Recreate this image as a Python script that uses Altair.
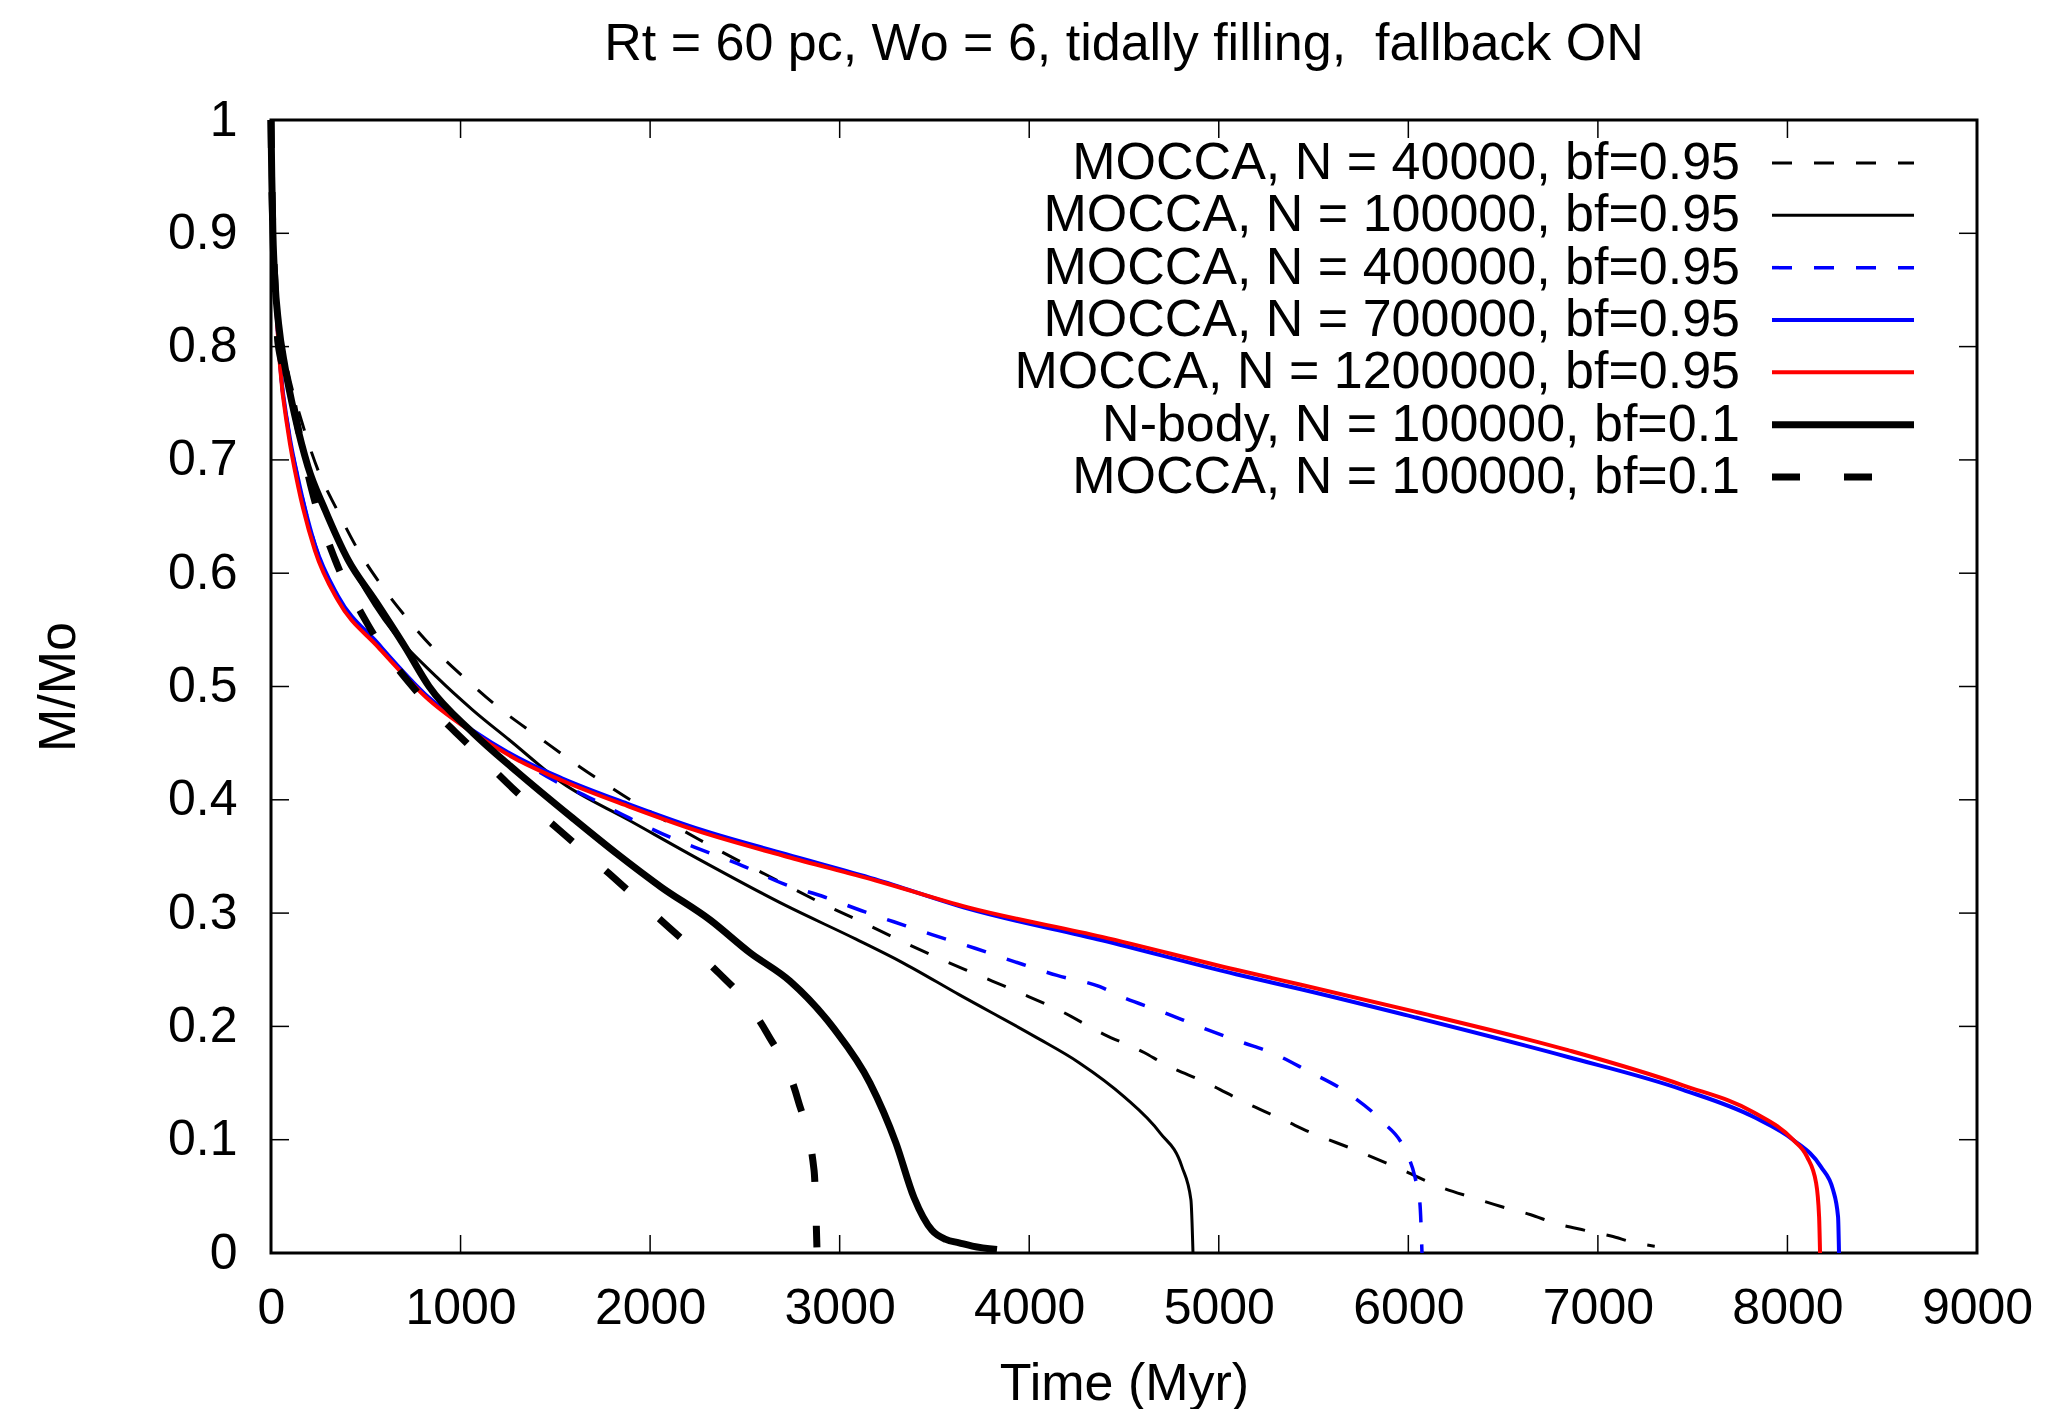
import altair as alt
import pandas as pd

FONT = "Liberation Sans"

# ---------------- data ----------------
title_text = "Rt = 60 pc, Wo = 6, tidally filling, \u00a0fallback ON"

labels = [
    "MOCCA, N = 40000, bf=0.95",
    "MOCCA, N = 100000, bf=0.95",
    "MOCCA, N = 400000, bf=0.95",
    "MOCCA, N = 700000, bf=0.95",
    "MOCCA, N = 1200000, bf=0.95",
    "N-body, N = 100000, bf=0.1",
    "MOCCA, N = 100000, bf=0.1",
]

t_40k = [0, 4, 10, 20, 40, 90, 160, 248, 348, 454, 575, 723, 855, 1045, 1219, 1398,
         1630, 1857, 2258, 2458, 2669, 2902, 3118, 3329, 3524, 3735, 3946, 4173, 4394,
         4606, 4711, 4938, 5138, 5360, 5476, 5719, 5972, 6172, 6336, 6489, 6642, 6779,
         6932, 7069, 7196, 7300]
m_40k = [1.0, 0.95, 0.90, 0.86, 0.825, 0.778, 0.735, 0.691, 0.656, 0.622, 0.591, 0.559,
         0.534, 0.504, 0.479, 0.457, 0.429, 0.404, 0.365, 0.347, 0.329, 0.309, 0.292,
         0.275, 0.260, 0.245, 0.230, 0.213, 0.193, 0.177, 0.167, 0.150, 0.133, 0.116,
         0.107, 0.091, 0.073, 0.058, 0.049, 0.041, 0.034, 0.026, 0.020, 0.015, 0.009, 0.006]

t_100k = [0, 4, 10, 20, 40, 74, 127, 195, 285, 406, 596, 876, 1066, 1256, 1535, 1889,
          2263, 2712, 3086, 3324, 3630, 4030, 4263, 4500, 4690, 4806, 4853, 4864]
m_100k = [1.0, 0.95, 0.90, 0.86, 0.82, 0.782, 0.738, 0.694, 0.656, 0.612, 0.559, 0.508,
          0.479, 0.453, 0.415, 0.382, 0.347, 0.307, 0.277, 0.257, 0.228, 0.191, 0.168,
          0.138, 0.106, 0.076, 0.047, 0.0]

t_400k = [0, 4, 10, 20, 48, 91, 150, 232, 353, 564, 834, 1066, 1303, 1493, 1678, 1889,
          2105, 2268, 2485, 2701, 2923, 3134, 3345, 3487, 3714, 3925, 4147, 4373, 4489,
          4700, 4911, 5122, 5276, 5466, 5682, 5856, 5982, 6035, 6061, 6072]
m_400k = [1.0, 0.95, 0.90, 0.86, 0.784, 0.728, 0.678, 0.625, 0.579, 0.536, 0.489, 0.459,
          0.436, 0.417, 0.402, 0.384, 0.367, 0.356, 0.342, 0.326, 0.314, 0.301, 0.289,
          0.281, 0.269, 0.257, 0.245, 0.235, 0.226, 0.213, 0.199, 0.186, 0.177, 0.161,
          0.141, 0.117, 0.091, 0.067, 0.044, 0.0]

t_700k = [0, 4, 10, 20, 48, 91, 150, 232, 353, 564, 834, 1066, 1303, 1535, 1889, 2242,
          2717, 3186, 3677, 4384, 5091, 5428, 6035, 6842, 7449, 7823, 8029, 8177, 8240,
          8267, 8272]
m_700k = [1.0, 0.95, 0.90, 0.86, 0.784, 0.728, 0.678, 0.625, 0.580, 0.538, 0.490, 0.461,
          0.437, 0.419, 0.396, 0.375, 0.352, 0.330, 0.304, 0.276, 0.246, 0.233, 0.208,
          0.173, 0.144, 0.120, 0.100, 0.076, 0.056, 0.032, 0.0]

t_1200k = [0, 4, 10, 20, 48, 91, 144, 232, 353, 564, 834, 1066, 1303, 1535, 1889, 2242,
           2717, 3186, 3677, 4384, 5091, 5428, 6035, 6842, 7449, 7823, 8029, 8103, 8151,
           8167, 8172]
m_1200k = [1.0, 0.95, 0.90, 0.86, 0.782, 0.724, 0.676, 0.620, 0.576, 0.535, 0.488, 0.459,
           0.435, 0.417, 0.394, 0.373, 0.350, 0.329, 0.305, 0.279, 0.250, 0.237, 0.213,
           0.179, 0.148, 0.124, 0.100, 0.085, 0.062, 0.032, 0.0]

t_nbody = [0, 4, 10, 20, 40, 74, 127, 195, 285, 406, 549, 707, 834, 1066, 1303, 1583,
           1820, 2058, 2316, 2527, 2738, 2970, 3160, 3297, 3392, 3487, 3560, 3630, 3700,
           3830]
m_nbody = [1.0, 0.95, 0.90, 0.86, 0.82, 0.782, 0.738, 0.694, 0.656, 0.612, 0.576, 0.535,
           0.500, 0.459, 0.424, 0.385, 0.353, 0.323, 0.294, 0.265, 0.240, 0.198, 0.150,
           0.097, 0.049, 0.020, 0.012, 0.009, 0.006, 0.003]

t_bf01 = [0, 4, 10, 20, 37, 100, 142, 216, 338, 496, 797, 1045, 1314, 1598, 1783, 2068,
          2363, 2500, 2617, 2780, 2865, 2880]
m_bf01 = [1.0, 0.95, 0.90, 0.86, 0.803, 0.764, 0.729, 0.673, 0.612, 0.559, 0.490, 0.448,
          0.404, 0.362, 0.335, 0.292, 0.247, 0.223, 0.194, 0.135, 0.073, 0.005]

x_ticks = [0, 1000, 2000, 3000, 4000, 5000, 6000, 7000, 8000, 9000]
y_ticks = [0.0, 0.1, 0.2, 0.3, 0.4, 0.5, 0.6, 0.7, 0.8, 0.9, 1.0]

series = [
    (t_40k, m_40k), (t_100k, m_100k), (t_400k, m_400k), (t_700k, m_700k),
    (t_1200k, m_1200k), (t_nbody, m_nbody), (t_bf01, m_bf01),
]

# ---------------- styles ----------------
colors = ["black", "black", "#0000ff", "#0000ff", "#ff0000", "black", "black"]
dashes = [[20, 22], None, [20, 22], None, None, None, [28, 44]]
widths = [3, 3, 3.5, 4, 4, 7, 7]

W, H = 1706, 1133

xs = alt.Scale(domain=[0, 9000], nice=False, zero=False)
ys = alt.Scale(domain=[0, 1], nice=False, zero=False)

xaxis = alt.Axis(
    values=x_ticks, format="d", labelFontSize=50, labelFont=FONT, labelColor="black",
    labelPadding=30, labelFlush=False, labelOverlap=False, ticks=False, tickSize=0,
    domain=False, grid=False, title="Time (Myr)", titleFontSize=52, titleFont=FONT,
    titleFontWeight="normal", titleColor="black", titleX=W / 2, titleY=146,
    titleBaseline="alphabetic", titleAlign="center",
)
yaxis = alt.Axis(
    values=y_ticks, format=".1~f", labelFontSize=50, labelFont=FONT, labelColor="black",
    labelPadding=34, labelFlush=False, labelOverlap=False, ticks=False, tickSize=0,
    domain=False, grid=False, title="M/Mo", titleFontSize=52, titleFont=FONT,
    titleFontWeight="normal", titleColor="black", titleX=-197, titleY=H / 2,
    titleAngle=270, titleBaseline="alphabetic", titleAlign="center",
)

inner = []
for i, (t, m) in enumerate(series):
    df = pd.DataFrame({"t": t, "m": m, "o": list(range(len(t)))})
    mk = dict(color=colors[i], strokeWidth=widths[i], clip=False, interpolate="monotone")
    if dashes[i]:
        mk["strokeDash"] = dashes[i]
    inner.append(
        alt.Chart(df).mark_line(**mk).encode(
            x=alt.X("t:Q", scale=xs, axis=xaxis),
            y=alt.Y("m:Q", scale=ys, axis=yaxis),
            order="o:Q",
        )
    )

xt = pd.DataFrame({"t": x_ticks})
yt = pd.DataFrame({"m": y_ticks})
tick_style = dict(color="black", strokeWidth=1.5)
inner.append(alt.Chart(xt).mark_rule(**tick_style).encode(
    x=alt.X("t:Q", scale=xs, axis=xaxis), y=alt.value(H), y2=alt.value(H - 18)))
inner.append(alt.Chart(xt).mark_rule(**tick_style).encode(
    x=alt.X("t:Q", scale=xs, axis=xaxis), y=alt.value(0), y2=alt.value(18)))
inner.append(alt.Chart(yt).mark_rule(**tick_style).encode(
    y=alt.Y("m:Q", scale=ys, axis=yaxis), x=alt.value(0), x2=alt.value(18)))
inner.append(alt.Chart(yt).mark_rule(**tick_style).encode(
    y=alt.Y("m:Q", scale=ys, axis=yaxis), x=alt.value(W), x2=alt.value(W - 18)))

# chart title drawn as a text mark above the plot area
inner.append(alt.Chart(pd.DataFrame({"title": [title_text]})).mark_text(
    align="center", baseline="alphabetic", fontSize=52, font=FONT, color="black"
).encode(x=alt.value(W / 2), y=alt.value(-60), text="title:N"))

main = alt.layer(*inner)

# ---------------- legend (gnuplot style: text right-aligned, sample to its right) ----------------
leg_df = pd.DataFrame({"label": labels, "row": list(range(len(labels)))})
leg_y = alt.Scale(domain=[0, 6], range=[43, 357])

legend_layers = [
    alt.Chart(leg_df).mark_text(
        align="right", baseline="middle", fontSize=52, font=FONT, color="black"
    ).encode(
        x=alt.value(1469),
        y=alt.Y("row:Q", scale=leg_y, axis=None),
        text="label:N",
    )
]
for i, lab in enumerate(labels):
    mk = dict(color=colors[i], strokeWidth=widths[i])
    if dashes[i]:
        mk["strokeDash"] = dashes[i]
    legend_layers.append(
        alt.Chart(leg_df[leg_df["label"] == lab]).mark_rule(**mk).encode(
            x=alt.value(1501),
            x2=alt.value(1643),
            y=alt.Y("row:Q", scale=leg_y, axis=None),
        )
    )

chart = alt.layer(main, *legend_layers).resolve_scale(y="independent").properties(
    width=W,
    height=H,
    background="white",
    autosize=alt.AutoSizeParams(type="none"),
    padding={"left": 271, "top": 120, "right": 73, "bottom": 156},
).configure_view(stroke="black", strokeWidth=3)

chart.save("out.html", embed_options={"renderer": "svg", "actions": False})
